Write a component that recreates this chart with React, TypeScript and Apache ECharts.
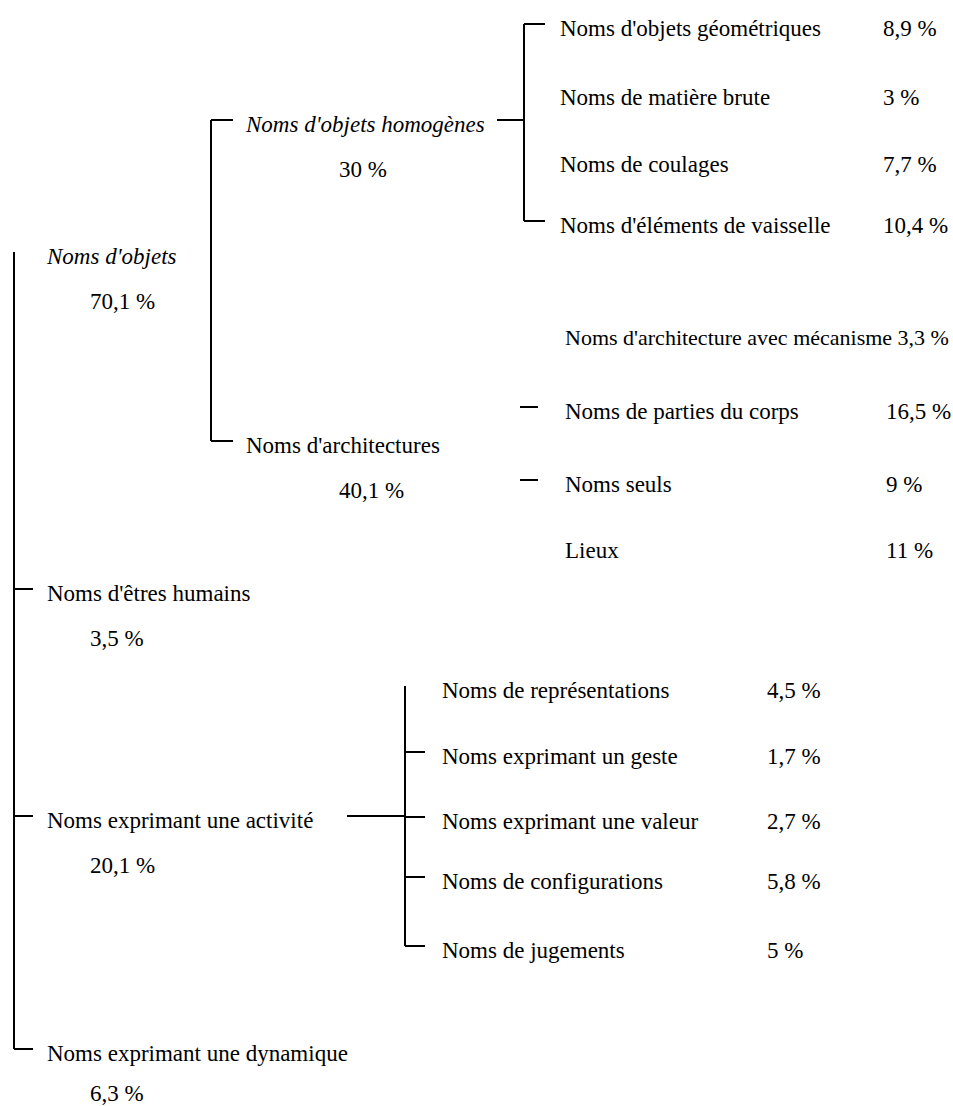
import React, { useEffect, useRef } from "react";
import * as echarts from "echarts";

// ---- data ----
const names: string[] = [
  "Noms d'objets",
  "Noms d'êtres humains",
  "Noms exprimant une activité",
  "Noms exprimant une dynamique",
  "Noms d'objets homogènes",
  "Noms d'architectures",
  "Noms d'objets géométriques",
  "Noms de matière brute",
  "Noms de coulages",
  "Noms d'éléments de vaisselle",
  "Noms d'architecture avec mécanisme",
  "Noms de parties du corps",
  "Noms seuls",
  "Lieux",
  "Noms de représentations",
  "Noms exprimant un geste",
  "Noms exprimant une valeur",
  "Noms de configurations",
  "Noms de jugements",
];
const shares: string[] = [
  "70,1 %", "3,5 %", "20,1 %", "6,3 %",
  "30 %", "40,1 %",
  "8,9 %", "3 %", "7,7 %", "10,4 %",
  "3,3 %", "16,5 %", "9 %", "11 %",
  "4,5 %", "1,7 %", "2,7 %", "5,8 %", "5 %",
];
const parents: number[] = [-1, -1, -1, -1, 0, 0, 4, 4, 4, 4, 5, 5, 5, 5, 2, 2, 2, 2, 2];
const italicNames: boolean[] = [true, false, false, false, true, false, false, false, false, false, false, false, false, false, false, false, false, false, false];
const hasTick: boolean[] = [false, true, true, true, true, true, true, false, false, true, false, true, true, false, false, true, true, true, true];

// ---- layout (layout units on hidden axes) ----
const rowY: number[] = [256, 593, 820, 1053, 124, 445, 28, 97, 164, 225, 337, 411, 484, 550, 690, 756, 821, 881, 950];
const groupKeys: number[] = [-1, 0, 4, 5, 2];
const groupTextX: number[] = [47, 246, 560, 565, 442];
const groupShareX: number[] = [90, 339, 883, 886, 767];
const groupShareBelow: boolean[] = [true, true, false, false, false];
const groupBracketX: number[] = [14, 211, 524, 520, 405];
const groupTickEnd: number[] = [33, 233, 545, 538, 425];
const groupVertical: boolean[] = [true, true, true, false, true];
const groupIncomingFrom: (number | null)[] = [null, null, 497, null, 347];
const shareOffsetBelow = 45;
const tickOffset = 4;
const shareYOverride: Record<number, number> = { 3: 1093 };
// node whose share is written on the same line, right after its name
const inlineShareNodes: number[] = [10];
const inlineFontSize = 22;

const FONT = "'Liberation Serif', 'Times New Roman', serif";
const FONT_SIZE = 23;

export default function App() {
  const ref = useRef<HTMLDivElement | null>(null);
  useEffect(() => {
    if (!ref.current) return;
    const chart = echarts.init(ref.current, undefined, { renderer: "svg" });

    const nodeData = names.map((_, i) => {
      const g = groupKeys.indexOf(parents[i]);
      return [groupTextX[g], rowY[i], i];
    });
    const groupData = groupKeys.map((_, g) => [groupBracketX[g], 0, g]);

    const option: any = {
      animation: false,
      backgroundColor: "#fff",
      grid: { left: 0, right: 0, top: 0, bottom: 0 },
      xAxis: { type: "value", min: 0, max: 953, show: false },
      yAxis: { type: "value", min: 0, max: 1106, inverse: true, show: false },
      series: [
        {
          type: "custom",
          name: "connectors",
          coordinateSystem: "cartesian2d",
          clip: false,
          silent: true,
          data: groupData,
          renderItem: (params: any, api: any) => {
            const g = api.value(2);
            const key = groupKeys[g];
            const kids = names.map((_, i) => i).filter((i) => parents[i] === key);
            const bx = groupBracketX[g];
            const te = groupTickEnd[g];
            const children: any[] = [];
            const lineStyle = { stroke: "#000", lineWidth: 2 };
            const ys = kids.map((i) => rowY[i] - tickOffset);
            if (groupVertical[g]) {
              const p1 = api.coord([bx, Math.min(...ys)]);
              const p2 = api.coord([bx, Math.max(...ys)]);
              children.push({ type: "line", shape: { x1: p1[0], y1: p1[1], x2: p2[0], y2: p2[1] }, style: lineStyle });
            }
            kids.forEach((i) => {
              if (!hasTick[i]) return;
              const a = api.coord([bx, rowY[i] - tickOffset]);
              const b = api.coord([te, rowY[i] - tickOffset]);
              children.push({ type: "line", shape: { x1: a[0], y1: a[1], x2: b[0], y2: b[1] }, style: lineStyle });
            });
            const inc = groupIncomingFrom[g];
            if (inc !== null && key >= 0) {
              const a = api.coord([inc, rowY[key] - tickOffset]);
              const b = api.coord([bx, rowY[key] - tickOffset]);
              children.push({ type: "line", shape: { x1: a[0], y1: a[1], x2: b[0], y2: b[1] }, style: lineStyle });
            }
            return { type: "group", children };
          },
        },
        {
          type: "custom",
          name: "labels",
          coordinateSystem: "cartesian2d",
          clip: false,
          silent: true,
          data: nodeData,
          renderItem: (params: any, api: any) => {
            const i = api.value(2);
            const g = groupKeys.indexOf(parents[i]);
            const p = api.coord([api.value(0), api.value(1)]);
            const base = {
              fill: "#000",
              fontFamily: FONT,
              align: "left",
              verticalAlign: "middle",
            };
            if (inlineShareNodes.indexOf(i) >= 0) {
              return {
                type: "text",
                x: p[0],
                y: p[1],
                style: {
                  ...base,
                  text: names[i] + " " + shares[i],
                  fontSize: inlineFontSize,
                  fontStyle: italicNames[i] ? "italic" : "normal",
                },
              };
            }
            const sx = groupShareX[g];
            const sy =
              shareYOverride[i] !== undefined
                ? shareYOverride[i]
                : groupShareBelow[g]
                ? rowY[i] + shareOffsetBelow
                : rowY[i];
            const ps = api.coord([sx, sy]);
            return {
              type: "group",
              children: [
                {
                  type: "text",
                  x: p[0],
                  y: p[1],
                  style: {
                    ...base,
                    text: names[i],
                    fontSize: FONT_SIZE,
                    fontStyle: italicNames[i] ? "italic" : "normal",
                  },
                },
                {
                  type: "text",
                  x: ps[0],
                  y: ps[1],
                  style: { ...base, text: shares[i], fontSize: FONT_SIZE },
                },
              ],
            };
          },
        },
      ],
    };
    chart.setOption(option);
    return () => chart.dispose();
  }, []);

  return (
    <div
      ref={ref}
      style={{ position: "absolute", left: 0, top: 0, width: 953, height: 1106, background: "#fff" }}
    />
  );
}
